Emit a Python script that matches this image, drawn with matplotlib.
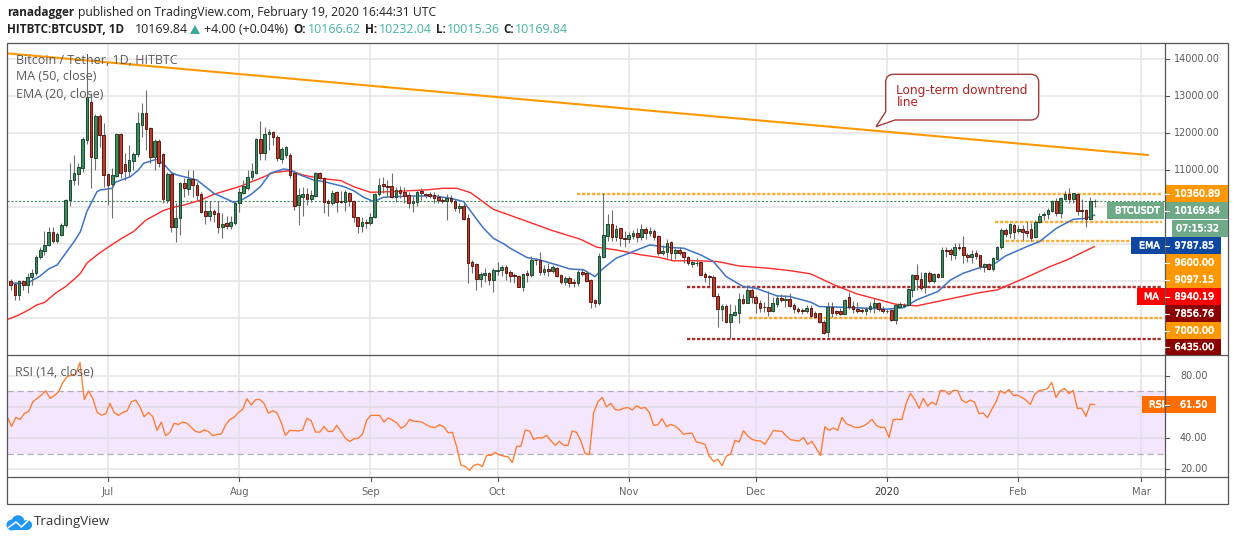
import numpy as np
import matplotlib
matplotlib.use("Agg")
import matplotlib.pyplot as plt
import matplotlib.patheffects as pe
from matplotlib.patches import Rectangle, Circle, PathPatch
from matplotlib.path import Path

W, H = 1234, 541

# candles, one per day, first one is 23 days before 1 Jul 2019
first_day = -23
opens = [8002,7930,7642,8002,7894,8128,8218,8668,8830,8974,
    9334,9100,9262,9514,10198,10738,10900,11071,11818,12853,
    11341,12466,11953,10900,10630,10855,11980,11170,10990,11260,
    11440,12223,12538,12133,11368,11800,11440,10198,10900,9460,
    9703,10648,10495,10756,10603,10351,9892,9775,9892,9838,
    9478,9568,9505,9586,10108,10396,10522,10810,10936,11836,
    11476,11980,12025,11890,11305,11422,11413,10936,10063,10288,
    10360,10216,10315,10918,10783,10171,10108,10405,10171,10153,
    10378,10180,9730,9505,9604,9586,9748,10360,10630,10576,
    10576,10288,10468,10423,10324,10108,10153,10450,10360,10360,
    10324,10288,10198,10180,10252,10180,9991,10036,9703,8515,
    8461,8065,8182,8236,8038,8290,8317,8389,8245,8173,
    8146,7858,8218,8173,8587,8587,8254,8335,8281,8353,
    8173,7984,8092,7984,7966,8254,8227,8038,7498,7426,
    8668,9235,9541,9208,9433,9172,9154,9226,9298,9208,
    9415,9316,9361,9226,8776,8803,9064,8758,8848,8794,
    8650,8479,8488,8515,8200,8146,8128,7615,7264,7336,
    6904,7102,7156,7525,7426,7768,7570,7426,7318,7300,
    7210,7390,7543,7498,7516,7363,7246,7228,7210,7282,
    7138,7138,6913,6643,7300,7192,7192,7129,7570,7336,
    7264,7228,7201,7255,7300,7408,7264,7210,7228,6958,
    7318,7345,7363,7768,8164,8056,7840,8218,8002,8200,
    8128,8848,8848,8713,8920,8920,8704,8650,8758,8704,
    8398,8461,8344,8614,8920,9388,9298,9523,9370,9406,
    9361,9406,9190,9613,9784,9811,9910,10180,9856,10225,
    10360,10225,10360,9928,9928,9685,10166.62]
closes = [7912,7642,8002,7894,8128,8218,8659,8848,8974,9325,
    9082,9280,9514,10189,10738,10936,11098,11836,12988,11350,
    12466,11953,10873,10603,10873,11980,10936,10990,11278,11440,
    12268,12538,12106,11368,11800,11188,10225,10900,9460,9703,
    10648,10531,10756,10603,10333,9883,9775,9892,9829,9478,
    9541,9505,9595,10126,10414,10576,10810,10981,11836,11476,
    11971,12025,11890,11323,11566,11620,10873,10045,10333,10360,
    10225,10333,10918,10783,10153,10126,10378,10153,10153,10405,
    10180,9730,9505,9595,9586,9730,10360,10603,10585,10558,
    10288,10468,10396,10315,10126,10180,10423,10378,10333,10306,
    10261,10198,10171,10252,10180,9991,10045,9694,8506,8425,
    8074,8191,8218,8038,8308,8308,8380,8236,8146,8155,
    7858,8191,8173,8578,8569,8263,8335,8290,8389,8146,
    7993,8092,7966,7966,8254,8209,8020,7453,7426,8677,
    9244,9541,9208,9415,9181,9154,9253,9298,9208,9415,
    9316,9352,9208,8776,8821,9037,8758,8848,8776,8650,
    8488,8524,8506,8182,8128,8110,7615,7264,7336,6904,
    7111,7174,7516,7426,7768,7570,7426,7282,7300,7210,
    7417,7552,7507,7525,7336,7246,7192,7192,7282,7066,
    7048,6913,6616,7300,7138,7147,7120,7498,7300,7264,
    7192,7201,7255,7336,7408,7264,7201,7192,6958,7363,
    7381,7363,7786,8173,8056,7813,8218,8020,8191,8110,
    8848,8812,8731,8920,8902,8704,8650,8740,8686,8416,
    8470,8344,8623,8920,9388,9280,9550,9334,9406,9343,
    9298,9163,9613,9775,9811,9928,10180,9856,10243,10360,
    10225,10378,9910,9910,9685,10180,10169.84]
highs = [8056,7993,8038,8038,8218,8344,8713,8920,9361,9460,
    9460,9325,9586,10216,11188,11413,11188,11908,13978,13078,
    12520,12520,12268,10918,11053,11998,11998,11458,11683,11503,
    12583,12808,13168,12160,11836,11836,11458,10963,10963,10108,
    10693,10783,11008,11008,10693,10423,10198,10180,9946,10180,
    9838,9766,9775,10153,10513,10738,11008,11188,11863,12331,
    12178,12106,12070,11953,11638,11656,11458,11008,10513,10540,
    10513,10468,10963,10963,10810,10216,10468,10450,10450,10468,
    10423,10198,9748,9748,9676,9838,10378,10783,10810,10738,
    10918,10558,10576,10558,10423,10306,10468,10513,10396,10423,
    10423,10360,10288,10360,10333,10216,10126,10108,9820,8578,
    8488,8263,8353,8263,8353,8515,8443,8443,8308,8218,
    8164,8218,8308,8686,8623,8785,8443,8488,8443,8398,
    8191,8146,8146,8056,8308,8353,8263,8056,7516,8758,
    10378,9820,9928,9523,9451,9370,9343,9388,9433,9550,
    9460,9478,9406,9253,8983,9136,9091,8893,8920,8821,
    8686,8578,8623,8533,8263,8173,8173,7678,7381,7381,
    7381,7363,7678,7660,7903,7813,7633,7498,7453,7750,
    7588,7633,7660,7633,7678,7408,7300,7273,7363,7363,
    7192,7156,6958,7435,7435,7228,7273,7516,7723,7480,
    7453,7318,7318,7453,7543,7453,7336,7246,7264,7390,
    7453,7408,7813,8200,8470,8263,8263,8290,8218,8236,
    8920,8920,8893,9028,9046,9226,8758,8848,8848,8722,
    8506,8488,8650,8956,9433,9433,9586,9568,9523,9523,
    9613,9568,9658,9856,9883,9973,10198,10243,10270,10450,
    10513,10396,10378,10216,9946,10270,10232.04]
lows = [7768,7498,7498,7768,7696,7903,8173,8596,8713,8956,
    9028,9046,9226,9478,10036,10612,10603,10963,11710,10513,
    11008,11638,10558,10063,9721,10828,10783,10738,10828,11008,
    11368,11908,11548,11188,11008,11098,10108,10108,9343,9073,
    9253,10288,10333,10288,10198,9838,9550,9640,9613,9298,
    9181,9415,9406,9523,9883,10360,10468,10738,10900,11278,
    11278,11548,11683,11260,11188,11323,10783,9928,9523,9766,
    10063,10153,10288,10756,9856,9766,10063,9883,10108,9910,
    10036,9613,9316,9343,9451,9523,9721,10306,10378,10288,
    10243,10153,10243,10108,9973,9883,10036,10198,10243,10243,
    10108,10108,10108,9658,10108,9910,9856,9658,7948,8218,
    7768,7858,7993,7903,7723,8173,8146,8038,7993,7948,
    7840,7750,7993,8128,8443,8173,8173,8146,8218,8128,
    7930,7903,7840,7840,7876,8146,7993,7291,7318,7363,
    8623,9100,9100,9100,8956,8938,9028,9136,9073,9118,
    9136,9226,9118,8713,8713,8623,8578,8596,8713,8506,
    8443,8398,8416,8164,7993,7903,7588,6778,6940,6868,
    6463,7075,6868,7390,7408,7408,7156,7183,7183,7075,
    7183,7318,7453,7318,7300,7138,7138,7120,7138,7030,
    7003,6868,6580,6481,7048,7093,7093,7120,7246,7138,
    7138,7156,7093,7183,7156,7210,7138,7156,6931,6850,
    7273,7300,7336,7588,7768,7768,7678,7966,7948,8083,
    8110,8668,8578,8596,8848,8506,8533,8506,8596,8335,
    8263,8308,8290,8596,8884,9208,9163,9136,9298,9118,
    9208,9100,9163,9568,9658,9676,9883,9766,9703,10198,
    10108,10108,9793,9658,9460,9658,10015.36]

ema_days = [-23,-19,-16,-14,-12,-10,-8,-6.5,-5,-2.6,-1.8,1,1.7,5.3,7.2,8.4,11.4,13,15,16.3,21,25,29.7,31.3,33.6,36,
    38.3,41.5,43,45.4,48.6,51,55.7,58,60.4,62.8,65,71.4,77,81,84,87.2,88.7,91,93.5,95,99,102,106,109,112.4,115,117,120,
    124,128,132,136,140,143,146,150,153,158,161,166,168,173,179,184,188,191,196,199,202,206,209,212,217,220,224,228,231,233]
ema_vals = [7948,7948,8146,8335,8443,8758,9073,9343,9883,10423,10468,10513,10675,10828,11008,11188,11296,11188,10936,10873,10738,10378,10135,10180,10333,10558,
    10918,11035,11008,10873,10738,10693,10558,10450,10270,10153,10270,10306,10306,10243,10153,9658,9433,9163,9010,8893,8641,8578,8443,8335,8308,8128,8353,8623,
    8803,8983,8920,8893,8713,8533,8128,7858,7813,7606,7588,7435,7318,7300,7273,7246,7291,7498,7723,8038,8218,8371,8443,8686,8938,9073,9433,9676,9703,9788]
ma_days = [-24,-21.5,-19,-16.8,-15,-12.4,-10,-7.7,-6.5,-5,-2.6,0,2.9,6,9,11.2,13,15.5,18,22,25,31,36,39,43,46,50,55,58,62,67,71.4,75,79,82.4,85.6,88,91,98,105,111.6,115.5,120,126,130,133.6,138,144,149,156,161,166,
    171.5,176.9,181.6,186,191,197,206,210,217,222.5,226.5,233]
ma_vals = [6958,7066,7210,7363,7426,7678,7858,8083,8218,8488,8713,8920,9136,9343,9658,9793,9910,10000,10063,10198,10351,10558,10783,10936,10990,10873,10783,10720,10558,10405,10423,10450,10468,10513,10513,10396,10198,9946,9658,9370,9136,8920,8848,8713,8650,8551,8560,8533,8416,8353,8290,8200,
    7903,7660,7516,7381,7336,7480,7696,7768,8110,8398,8578,8940]

rsi_vals = [53.7,47.5,53.3,52.0,55.9,57.1,63.3,65.5,67.6,70.4,65.5,67.2,69.8,75.7,79.4,80.4,81.1,88.5,64.8,70.2,65.5,56.5,54.8,55.5,62.3,56.3,54.6,56.5,57.4,63.3,64.4,60.1,53.7,56.5,53.7,45.0,50.3,41.6,43.7,49.5,
    48.8,50.3,49.5,46.9,44.3,43.7,45.2,44.3,41.6,42.4,42.6,48.4,52.0,53.3,56.5,58.4,65.3,61.2,64.6,64.8,62.3,55.9,57.6,56.3,50.1,41.8,45.0,44.8,44.6,45.2,52.7,51.2,43.9,43.9,47.5,44.3,44.3,48.2,44.1,39.9,
    37.9,39.6,39.9,42.6,51.6,54.6,54.6,54.6,50.3,52.9,51.6,49.7,46.3,48.0,52.0,50.8,50.8,50.1,48.4,47.1,46.9,48.6,47.3,43.5,43.7,34.5,22.6,21.9,19.4,22.6,23.4,21.7,29.0,29.0,30.9,29.2,28.5,28.1,24.3,34.7,
    34.9,45.2,44.6,39.2,40.3,40.1,41.8,38.4,35.4,37.9,35.4,35.4,44.6,43.7,38.4,30.0,29.6,56.3,63.3,66.1,60.1,62.3,
    58.4,58.0,59.1,59.7,58.0,60.8,59.1,59.7,56.5,48.2,48.6,52.5,47.3,48.8,47.8,45.6,42.4,43.1,43.1,37.5,36.9,36.0,28.5,25.1,26.4,22.3,28.5,29.8,38.6,37.5,44.8,41.4,39.2,38.4,38.2,36.0,40.5,45.0,44.6,44.3,
    41.4,39.0,38.6,38.2,40.5,36.0,37.9,33.4,29.0,47.3,45.0,46.5,45.0,53.3,49.3,48.2,46.9,46.9,47.8,49.5,52.0,48.2,46.9,46.9,40.5,52.0,52.0,52.0,62.3,68.7,64.8,59.1,65.5,60.6,63.1,61.4,70.6,70.4,68.0,70.6,
    70.6,64.4,62.7,64.4,62.9,55.7,56.1,53.1,58.4,63.3,70.4,68.7,71.2,67.4,67.6,66.1,64.4,61.6,68.0,70.4,71.0,71.7,75.7,66.1,70.4,71.9,68.5,70.6,59.1,59.1,54.0,61.8,61.5]

# downtrend line end points and horizontal levels (value, first day)
trend_days = [-24, 245.6]
trend_vals = [14162, 11412]
res_levels = [10360, 9610, 9097, 7000]
res_starts = [110.7, 209.5, 211, 151.4]
sup_levels = [7857, 6435]
sup_starts = [136.7, 136.7]
level_end = 249

month_days = [0, 31, 62, 92, 123, 153, 184, 215, 244]
month_names = ["Jul", "Aug", "Sep", "Oct", "Nov", "Dec", "2020", "Feb", "Mar"]
price_ticks = [14000, 13000, 12000, 11000, 10000, 9000, 8000, 7000]
price_ticklabels = ["14000.00", "13000.00", "12000.00", "11000.00"]
rsi_ticks = [80, 60, 40, 20]
rsi_ticklabels = ["80.00", "40.00", "20.00"]

ORANGE = "#ff9800"
DARKRED = "#8b0000"
GREEN_LBL = "#6fa988"
plt.rcParams["font.family"] = ["DejaVu Sans"]

fig = plt.figure(figsize=(W / 100, H / 100), dpi=100)


def pane(left, top, right, bottom):
    a = fig.add_axes([left / W, 1 - bottom / H, (right - left) / W, (bottom - top) / H])
    for s in a.spines.values():
        s.set_visible(False)
    a.set_xticks([])
    a.set_yticks([])
    a.set_xlim(-23.97, 249.65)
    return a


ax = pane(6.5, 43, 1165, 355)
ax.set_ylim(6008, 14440)
rsi = pane(6.5, 355, 1165, 477)
rsi.set_ylim(15.1, 93.3)

for d in month_days:
    ax.axvline(d, color="#e4e4e4", lw=1.1, zorder=1)
for p in price_ticks:
    ax.axhline(p, color="#e4e4e4", lw=1.1, zorder=1)

# levels under the candles
for lev, st in zip(res_levels, res_starts):
    ax.plot([st, level_end], [lev, lev], color=ORANGE, lw=1.7, ls=(0, (1.4, 0.72)), alpha=0.8, zorder=2)
for lev, st in zip(sup_levels, sup_starts):
    ax.plot([st, level_end], [lev, lev], color="#a31515", lw=1.7, ls=(0, (1.4, 0.72)), alpha=0.9, zorder=2)
ax.axhline(closes[-1], color="#3d8f63", lw=0.8, ls=(0, (2, 1.5)), zorder=2)

ax.plot(ma_days, ma_vals, color="#ff2a2a", lw=1.0, zorder=3)
ax.plot(ema_days, ema_vals, color="#3f73c4", lw=1.1, zorder=3)

days = np.arange(len(opens)) + first_day
opens = np.array(opens)
closes = np.array(closes)
ax.vlines(days, lows, highs, color="#6e6e6e", lw=0.8, zorder=4)
up = closes >= opens
ax.bar(days[up], (closes - opens)[up], bottom=opens[up], width=0.62, color="#3c8c5f",
       edgecolor="#1d4a31", lw=0.7, zorder=5)
ax.bar(days[~up], (opens - closes)[~up], bottom=closes[~up], width=0.62, color="#c0392b",
       edgecolor="#5e1a12", lw=0.7, zorder=5)

ax.plot(trend_days, trend_vals, color=ORANGE, lw=1.5, zorder=6)

# rsi pane
rsi.axhspan(30, 70, color="#f4e6fd", lw=0, zorder=0)
for d in month_days:
    rsi.axvline(d, color="#e4e0e8", lw=1.1, zorder=1)
for r in rsi_ticks:
    rsi.axhline(r, color="#e0d8e6" if r in (40, 60) else "#e4e4e4", lw=1.1, zorder=1)
for r in (30, 70):
    rsi.axhline(r, color="#b5acb8", lw=0.9, ls=(0, (5, 3)), zorder=2)
rsi_days = np.linspace(-23.8, 233, len(rsi_vals))
rsi.plot(rsi_days, rsi_vals, color="#ff7a2e", lw=0.95, zorder=3)

# overlay in pixels for frame, labels and header
ov = fig.add_axes([0, 0, 1, 1], zorder=10)
ov.set_xlim(0, W)
ov.set_ylim(H, 0)
ov.axis("off")
ov.patch.set_alpha(0)

FRAME = "#555555"
ov.add_patch(Rectangle((6.5, 43), 1221, 461, fill=False, ec=FRAME, lw=0.9))
ov.plot([1165, 1165], [43, 504], color=FRAME, lw=0.9)
ov.plot([6.5, 1227.5], [355, 355], color=FRAME, lw=0.9)
ov.plot([6.5, 1227.5], [477, 477], color=FRAME, lw=0.9)


def price_y(p):
    return 170.3 + (11000 - p) * 0.037


def day_x(d):
    return 108 + 4.234 * d


LBL = dict(ha="left", va="center", fontsize=6.9)
for p, t in zip(price_ticks, price_ticklabels):
    y = price_y(p)
    ov.plot([1165, 1169], [y, y], color=FRAME, lw=0.8)
    ov.text(1174, y, t, color="#5a5a5a", **LBL)
for r, t in zip([80, 40, 20], rsi_ticklabels):
    y = 375.7 + (80 - r) * 1.56
    ov.plot([1165, 1169], [y, y], color=FRAME, lw=0.8)
    ov.text(1180, y, t, color="#5a5a5a", **LBL)
y = 406.3
ov.plot([1165, 1169], [y, y], color=FRAME, lw=0.8)

for d, t in zip(month_days, month_names):
    x = day_x(d)
    ov.plot([x, x], [477, 481], color=FRAME, lw=0.8)
    ov.text(x, 492, t, ha="center", va="center", fontsize=7.2,
            color="#3a3a3a" if t == "2020" else "#666666")


def tag(x0, x1, y0, y1, color, text, fg="white", tick=False, tx=None):
    ov.add_patch(Rectangle((x0, y0), x1 - x0, y1 - y0, color=color, lw=0))
    txt = ov.text(tx if tx else x0 + 9, (y0 + y1) / 2, text, color=fg, **LBL)
    txt.set_path_effects([pe.withStroke(linewidth=0.35, foreground=fg)])
    if tick:
        ov.plot([1165, 1169], [(y0 + y1) / 2] * 2, color="white", lw=0.8)


tag(1165.5, 1228, 185, 202, ORANGE, "10360.89", tick=True)
tag(1165.5, 1228, 202, 219, GREEN_LBL, "10169.84", tick=True)
tag(1106.5, 1163.5, 202, 219, GREEN_LBL, "BTCUSDT", tx=1115)
tag(1171.5, 1228, 219.5, 237, GREEN_LBL, "07:15:32", tx=1176)
tag(1131, 1165, 237, 254, "#0d47a1", "EMA", tx=1139)
tag(1165.5, 1221, 237, 254, "#0d47a1", "9787.85", tick=True)
tag(1165.5, 1221, 254, 271, ORANGE, "9600.00", tick=True)
tag(1165.5, 1221, 271, 288, ORANGE, "9097.15", tick=True)
tag(1137, 1165, 288, 305, "#ff0000", "MA", tx=1144)
tag(1165.5, 1221, 288, 305, "#ff0000", "8940.19", tick=True)
tag(1165.5, 1221, 305, 322, DARKRED, "7856.76", tick=True)
tag(1165.5, 1221, 322, 339, ORANGE, "7000.00", tick=True)
tag(1165.5, 1221, 339, 355, DARKRED, "6435.00", tick=True)
tag(1142, 1165, 396, 413, "#ff6d00", "RSI", tx=1149)
tag(1165.5, 1216, 396, 413, "#ff6d00", "61.50", tick=True, tx=1180)

# pane legends
SANS = "Open Sans"
for yy, t in zip([60, 77, 94], ["Bitcoin / Tether, 1D, HITBTC", "MA (50, close)", "EMA (20, close)"]):
    ov.text(15.5, yy, t, family=SANS, fontsize=9, color="#5a5a5a", va="center")
ov.text(15, 372.5, "RSI (14, close)", family=SANS, fontsize=8.9, color="#5a5a5a", va="center")

# header
HD = dict(family=SANS, va="center", color="#222222")
ov.text(7, 12.5, "ranadagger", fontweight="bold", fontsize=8.5, **HD)
ov.text(77.5, 12.5, "published on TradingView.com, February 19, 2020 16:44:31 UTC", fontsize=8.7, **HD)
ov.text(7, 29.5, "HITBTC:BTCUSDT, 1D", fontweight="bold", fontsize=8.5, **HD)
ov.text(134.5, 29.5, "10169.84", fontsize=8.9, **HD)
ov.add_patch(plt.Polygon([[190, 34], [200, 34], [195, 25]], color="#39a99a", lw=0))
ov.text(204, 29.5, "+4.00 (+0.04%)", fontsize=8.9, **HD)
TEAL = "#45b5a5"
parts = [(293, "O:", 308, "10166.62"), (365, "H:", 378.5, "10232.04"),
         (436, "L:", 447, "10015.36"), (503, "C:", 515, "10169.84")]
for x0, k, x1, v in parts:
    ov.text(x0, 29.5, k, fontweight="bold", fontsize=8.5, **HD)
    ov.text(x1, 29.5, v, family=SANS, fontsize=8.9, va="center", color=TEAL)

# callout
l, r, t, b, c = 885.7, 1038.7, 74.3, 120, 8
verts = [(l + c, t), (r - c, t), (r, t), (r, t + c), (r, b - c), (r, b), (r - c, b), (895, b), (876, 126.7),
         (l, 111.7), (l, t + c), (l, t), (l + c, t), (l + c, t)]
codes = [Path.MOVETO, Path.LINETO, Path.CURVE3, Path.CURVE3, Path.LINETO, Path.CURVE3, Path.CURVE3, Path.LINETO,
         Path.LINETO, Path.LINETO, Path.LINETO, Path.CURVE3, Path.CURVE3, Path.CLOSEPOLY]
ov.add_patch(PathPatch(Path(verts, codes), fc="white", ec="#a83a3a", lw=1.0))
ov.text(896.5, 90.5, "Long-term downtrend", color="#b22222", fontsize=8.7, va="center")
ov.text(896.5, 102.5, "line", color="#b22222", fontsize=8.7, va="center")

# logo
BLUE = "#2196f3"
for cx, cy, cr in [(12, 525, 5.5), (18, 521.8, 6.5), (27, 525, 5)]:
    ov.add_patch(Circle((cx, cy), cr, color=BLUE, lw=0))
ov.add_patch(Rectangle((12, 524), 15, 6, color=BLUE, lw=0))
ov.plot([8.5, 16, 21.5, 28], [527.5, 522, 527, 520.5], color="white", lw=1.1)
ov.text(34, 522, "TradingView", family=SANS, fontsize=9.5, color="#333333", va="center")

fig.savefig("out.png", dpi=100)
